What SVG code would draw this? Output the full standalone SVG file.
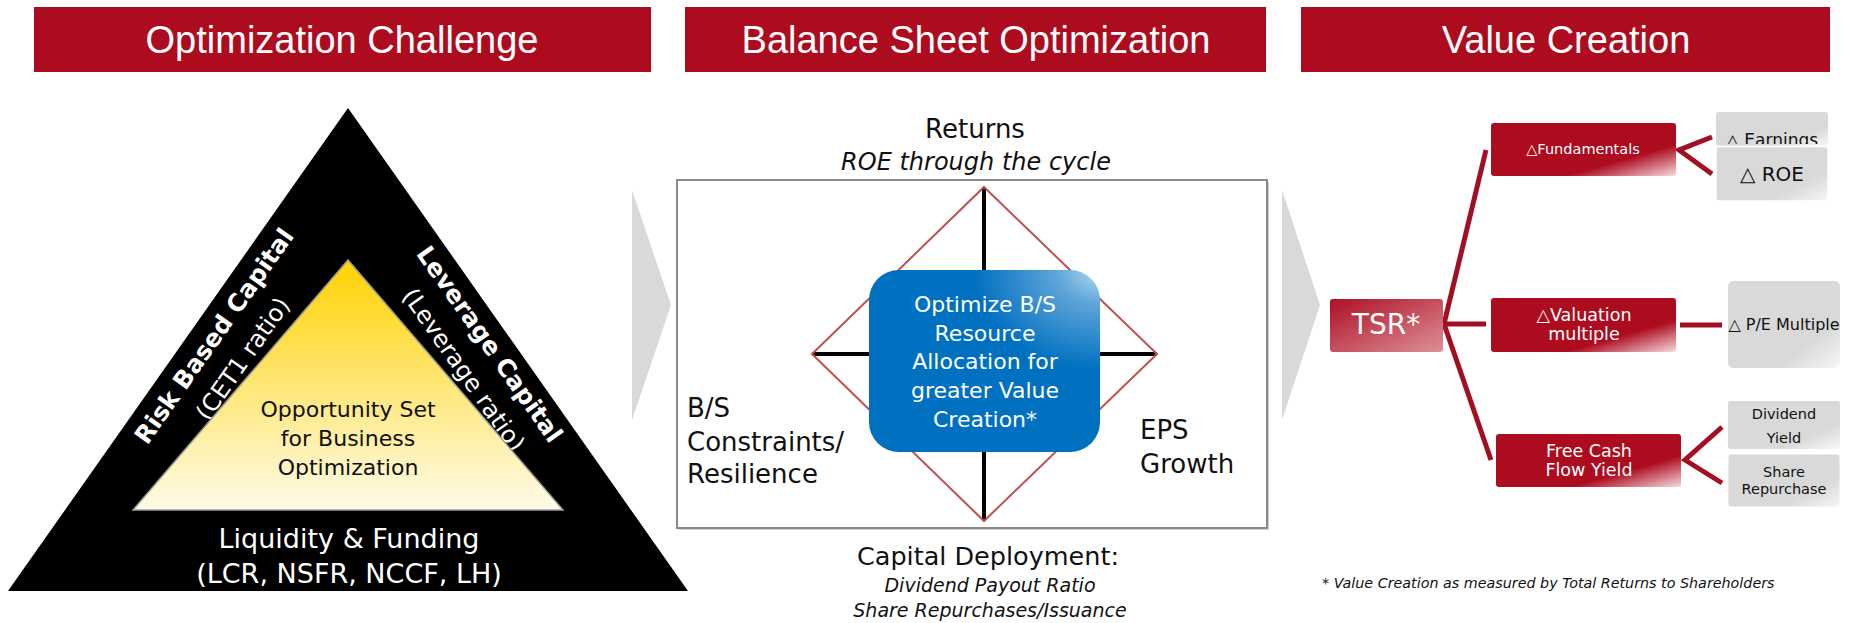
<svg xmlns="http://www.w3.org/2000/svg" width="1849" height="623" viewBox="0 0 1849 623">
<defs>
<style>
.hdr{fill:#AD0C1F}
.hdrt{font-family:"Liberation Sans",Arial,sans-serif;font-size:38px;fill:#fff;text-anchor:middle}
.t{font-family:"DejaVu Sans",Verdana,sans-serif}
.c{text-anchor:middle}
.w{fill:#fff}
.k{fill:#111}
.i{font-style:italic}
.b{font-weight:bold}
.conn{stroke:#A30F22;stroke-width:5;fill:none}
.chev{fill:#D9D9D9}
.red{fill:url(#gRed)}
.gray{fill:url(#gGray)}
</style>
<linearGradient id="gYellow" x1="0" y1="0" x2="0" y2="1"><stop offset="0" stop-color="#FFD200"/><stop offset="1" stop-color="#FFFBEA"/></linearGradient>
<radialGradient id="gBlue" cx="1" cy="0" r="0.55"><stop offset="0" stop-color="#B4DAEE"/><stop offset="0.35" stop-color="#5CA4D8"/><stop offset="1" stop-color="#0070C0"/></radialGradient>
<linearGradient id="gRed" x1="0" y1="0" x2="1" y2="1"><stop offset="0" stop-color="#AD0B1E"/><stop offset="0.7" stop-color="#AD0B1E"/><stop offset="1" stop-color="#F6DADD"/></linearGradient>
<linearGradient id="gTSR" x1="0" y1="0" x2="1" y2="1"><stop offset="0" stop-color="#AE1024"/><stop offset="1" stop-color="#DC9098"/></linearGradient>
<linearGradient id="gGray" x1="0" y1="0" x2="1" y2="1"><stop offset="0" stop-color="#D9D9D9"/><stop offset="0.72" stop-color="#D9D9D9"/><stop offset="1" stop-color="#F7F7F7"/></linearGradient>
<clipPath id="clipEarn"><rect x="1716" y="112" width="112" height="32"/></clipPath>
</defs>
<rect width="1849" height="623" fill="#fff"/>

<!-- Headers -->
<g id="header-optimization-challenge"><rect class="hdr" x="34" y="7" width="617" height="65"/><text class="hdrt" x="342" y="53">Optimization Challenge</text></g>
<g id="header-balance-sheet"><rect class="hdr" x="685" y="7" width="581" height="65"/><text class="hdrt" x="976" y="53">Balance Sheet Optimization</text></g>
<g id="header-value-creation"><rect class="hdr" x="1301" y="7" width="529" height="65"/><text class="hdrt" x="1566" y="53">Value Creation</text></g>

<!-- Left triangle -->
<g id="triangle-outer">
<polygon points="348,108 8,591 688,591" fill="#000"/>
<text class="t b w c" font-size="24.5" transform="translate(214,336) rotate(-54.85)" y="8.5">Risk Based Capital</text>
<text class="t w c" font-size="24" transform="translate(242.5,358.6) rotate(-54.85)" y="8.5">(CET1 ratio)</text>
<text class="t b w c" font-size="24.5" transform="translate(489.7,344.1) rotate(54.85)" y="8.5">Leverage Capital</text>
<text class="t w c" font-size="24" transform="translate(463.8,369.7) rotate(54.85)" y="8.5">(Leverage ratio)</text>
<text class="t w c" font-size="27" x="349" y="548">Liquidity &amp; Funding</text>
<text class="t w c" font-size="27" x="349" y="583">(LCR, NSFR, NCCF, LH)</text>
</g>
<g id="triangle-inner">
<polygon points="348,260 133,510 563,510" fill="url(#gYellow)" stroke="#9A9A9A" stroke-width="1.5"/>
<text class="t k c" font-size="22" x="348" y="417">Opportunity Set</text>
<text class="t k c" font-size="22" x="348" y="446">for Business</text>
<text class="t k c" font-size="22" x="348" y="475">Optimization</text>
</g>

<!-- Chevrons -->
<g id="chevron-1"><polygon class="chev" points="632,190 671,305 632,420"/></g>
<g id="chevron-2"><polygon class="chev" points="1282,190 1320,305 1282,420"/></g>

<!-- Middle panel -->
<g id="returns-label">
<text class="t k c" font-size="26" x="975" y="138">Returns</text>
<text class="t k c i" font-size="24" x="976" y="170">ROE through the cycle</text>
</g>
<g id="bs-frame">
<rect x="679" y="182" width="590" height="348" fill="#D0D0D0"/>
<rect x="677" y="180" width="590" height="348" fill="#fff" stroke="#8A8A8A" stroke-width="2"/>
<line x1="984" y1="187" x2="984" y2="521" stroke="#000" stroke-width="4"/>
<line x1="812" y1="354" x2="1157" y2="354" stroke="#000" stroke-width="4"/>
<polygon points="984,187 1157,354 984,521 812,354" fill="none" stroke="#C0504D" stroke-width="2"/>
</g>
<g id="optimize-box">
<rect x="869" y="270" width="231" height="182" rx="30" fill="url(#gBlue)"/>
<text class="t w c" font-size="22" x="985" y="312">Optimize B/S</text>
<text class="t w c" font-size="22" x="985" y="341">Resource</text>
<text class="t w c" font-size="22" x="985" y="369">Allocation for</text>
<text class="t w c" font-size="22" x="985" y="398">greater Value</text>
<text class="t w c" font-size="22" x="985" y="427">Creation*</text>
</g>
<g id="constraints-label">
<text class="t k" font-size="26" x="687" y="417">B/S</text>
<text class="t k" font-size="26" x="687" y="451">Constraints/</text>
<text class="t k" font-size="26" x="687" y="483">Resilience</text>
</g>
<g id="eps-label">
<text class="t k" font-size="26" x="1140" y="439">EPS</text>
<text class="t k" font-size="26" x="1140" y="473">Growth</text>
</g>
<g id="capital-deployment-label">
<text class="t k c" font-size="25.5" x="988" y="565">Capital Deployment:</text>
<text class="t k c i" font-size="19" x="990" y="592">Dividend Payout Ratio</text>
<text class="t k c i" font-size="19" x="990" y="617">Share Repurchases/Issuance</text>
</g>

<!-- Right panel connectors -->
<g id="connectors">
<line class="conn" x1="1444" y1="324" x2="1486" y2="150"/>
<line class="conn" x1="1444" y1="324" x2="1486" y2="324"/>
<line class="conn" x1="1444" y1="324" x2="1491" y2="460"/>
<polyline class="conn" points="1712,137 1679,150 1712,174"/>
<line class="conn" x1="1680" y1="325" x2="1722" y2="325"/>
<polyline class="conn" points="1722,427 1685,460 1722,483"/>
</g>

<g id="tsr"><rect x="1330" y="299" width="113" height="53" rx="3" fill="url(#gTSR)"/><text class="t w c" font-size="28" x="1386" y="334">TSR*</text></g>
<g id="fundamentals"><rect class="red" x="1491" y="123" width="185" height="53" rx="3"/><text class="t w c" font-size="14.5" x="1583" y="154">△Fundamentals</text></g>
<g id="valuation"><rect class="red" x="1491" y="298" width="185" height="54" rx="3"/><text class="t w c" font-size="17.5" x="1584" y="321">△Valuation</text><text class="t w c" font-size="17.5" x="1584" y="340">multiple</text></g>
<g id="free-cash-flow"><rect class="red" x="1496" y="434" width="185" height="53" rx="3"/><text class="t w c" font-size="17.5" x="1589" y="457">Free Cash</text><text class="t w c" font-size="17.5" x="1589" y="476">Flow Yield</text></g>

<g id="earnings"><rect class="gray" x="1716" y="112" width="112" height="34" rx="3"/><text class="t k c" font-size="17" x="1772" y="146" clip-path="url(#clipEarn)">△ Earnings</text></g>
<g id="roe"><rect class="gray" x="1716" y="146.5" width="112" height="54.5" rx="3" stroke="#fff" stroke-width="1.5"/><text class="t k c" font-size="20" x="1772" y="181">△ ROE</text></g>
<g id="pe-multiple"><rect class="gray" x="1728" y="281" width="112" height="87" rx="5"/><text class="t k c" font-size="16" x="1784" y="330">△ P/E Multiple</text></g>
<g id="dividend-yield"><rect class="gray" x="1728" y="401" width="112" height="48" rx="3"/><text class="t k c" font-size="14.5" x="1784" y="419">Dividend</text><text class="t k c" font-size="14.5" x="1784" y="443">Yield</text></g>
<g id="share-repurchase"><rect class="gray" x="1728" y="454" width="112" height="53" rx="3" stroke="#fff" stroke-width="1"/><text class="t k c" font-size="14.5" x="1784" y="477">Share</text><text class="t k c" font-size="14.5" x="1784" y="494">Repurchase</text></g>

<g id="footnote"><text class="t k i" font-size="14.3" x="1322" y="588">* Value Creation as measured by Total Returns to Shareholders</text></g>
</svg>
